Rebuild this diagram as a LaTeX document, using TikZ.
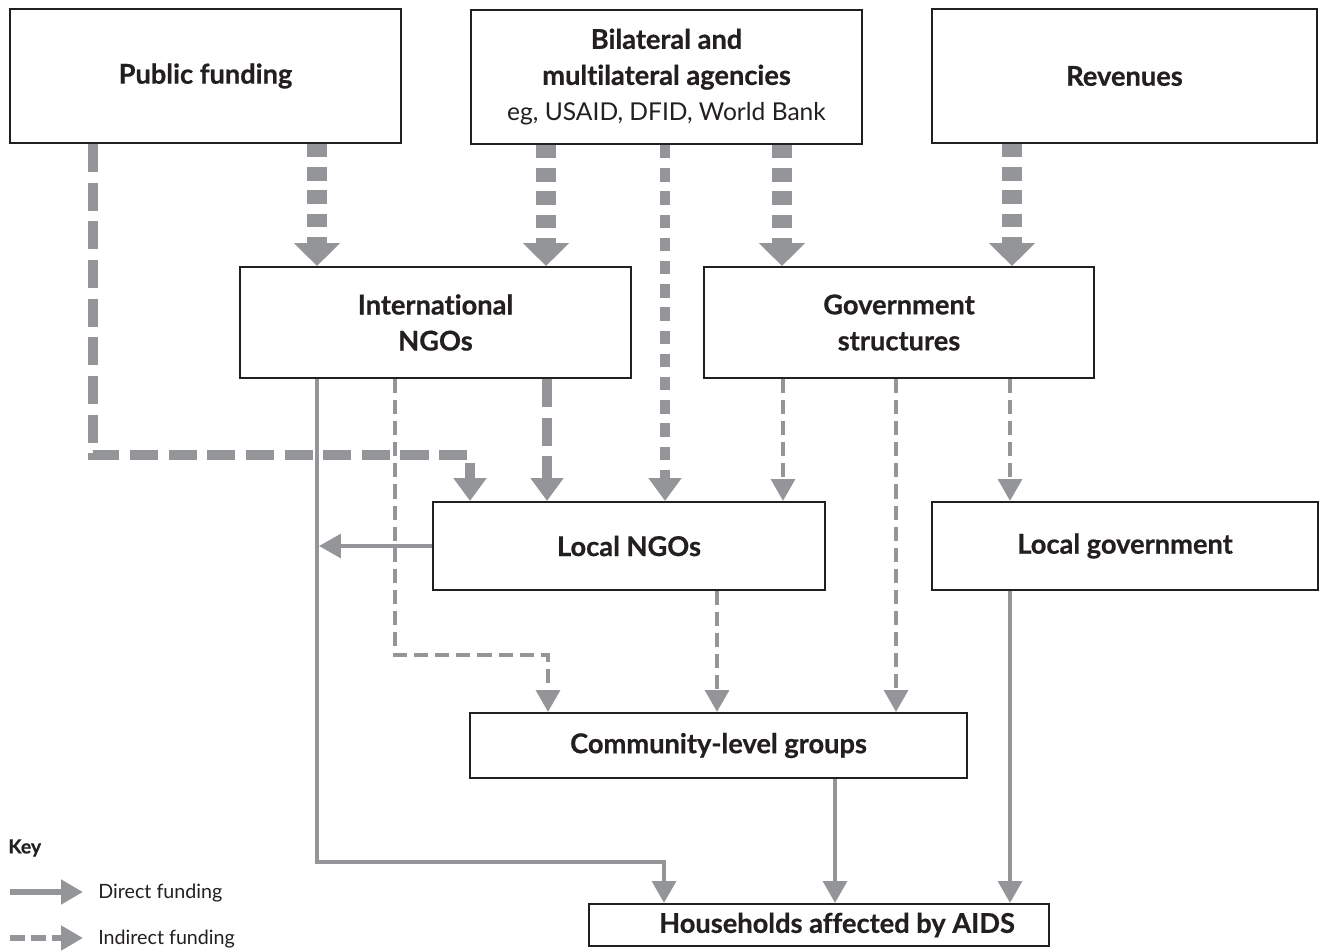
\documentclass[tikz,border=0pt]{standalone}
\usepackage{fontspec}
\setmainfont{Lato}[Ligatures=NoCommon,BoldFeatures={FakeBold=0.6}]
\usetikzlibrary{arrows.meta}
\definecolor{fgray}{HTML}{939598}
\definecolor{ink}{HTML}{231F20}
\begin{document}
\begin{tikzpicture}[x=0.02cm,y=-0.02cm,
  box/.style={draw=ink,line width=1.2pt,fill=white,inner sep=0pt,align=center,text=ink,
    font=\bfseries\fontsize{15.5}{20.5}\selectfont},
  flow/.style={draw=fgray,line cap=butt},
  thickarr/.style={flow,line width=11.9pt,dash pattern=on 7.6pt off 5.6pt,
    -{Triangle[width=25.5pt,length=13pt]}},
  longarr/.style={flow,line width=5.8pt,dash pattern=on 16pt off 6pt,
    -{Triangle[width=18pt,length=13pt]}},
  shortarr/.style={flow,line width=6pt,dash pattern=on 7.6pt off 5.6pt,
    -{Triangle[width=18pt,length=13pt]}},
  thinarr/.style={flow,line width=2.4pt,dash pattern=on 8pt off 4pt,
    -{Triangle[width=13.5pt,length=12.5pt]}},
  solidarr/.style={flow,line width=2.4pt,
    -{Triangle[width=13.5pt,length=12.5pt]}},
  keytxt/.style={anchor=west,text=ink,inner sep=0pt,font=\fontsize{11.2}{13}\selectfont}
]
\useasboundingbox (0,0) rectangle (1324,951);

% boxes
\node[box,minimum width=7.82cm,minimum height=2.68cm] (pub) at (205.5,76) {Public funding};
\node[box,minimum width=7.82cm,minimum height=2.68cm] (bil) at (666.5,77)
  {Bilateral and\\multilateral agencies\\{\mdseries\fontsize{14}{20.5}\selectfont eg, USAID, DFID, World Bank}};
\node[box,minimum width=7.7cm,minimum height=2.68cm] (rev) at (1124.5,76) {Revenues};
\node[box,minimum width=7.82cm,minimum height=2.22cm] (intl) at (435.5,322.5) {International\\NGOs};
\node[box,minimum width=7.8cm,minimum height=2.22cm] (gov) at (899,322.5) {Government\\structures};
\node[box,minimum width=7.84cm,minimum height=1.76cm] (lngo) at (629,546) {Local NGOs};
\node[box,minimum width=7.72cm,minimum height=1.76cm] (lgov) at (1125,546) {Local government};
\node[box,minimum width=9.94cm,minimum height=1.3cm] (comm) at (718.5,745.5) {Community-level groups};
\node[box,minimum width=9.2cm,minimum height=0.84cm] (hh) at (819,925) {\hspace*{0.72cm}Households affected by AIDS};

% connectors
\draw[longarr] (pub.south -| 93,0) -- (93,455) -- (470,455) -- (lngo.north -| 470,0);
\draw[thickarr] (pub.south -| 317,0) -- (intl.north -| 317,0);
\draw[thickarr] (bil.south -| 546,0) -- (intl.north -| 546,0);
\draw[shortarr] (bil.south -| 665,0) -- (lngo.north -| 665,0);
\draw[thickarr] (bil.south -| 782,0) -- (gov.north -| 782,0);
\draw[thickarr] (rev.south -| 1012,0) -- (gov.north -| 1012,0);
\draw[longarr] (intl.south -| 547,0) -- (lngo.north -| 547,0);
\draw[solidarr] (intl.south -| 317,0) -- (317,862) -- (664,862) -- (hh.north -| 664,0);
\draw[thinarr] (intl.south -| 395,0) -- (395,655) -- (548,655) -- (comm.north -| 548,0);
\draw[solidarr] (lngo.west) -- (lngo.west -| 319,0);
\draw[thinarr] (gov.south -| 783,0) -- (lngo.north -| 783,0);
\draw[thinarr] (gov.south -| 896,0) -- (comm.north -| 896,0);
\draw[thinarr] (gov.south -| 1010,0) -- (lgov.north -| 1010,0);
\draw[thinarr] (lngo.south -| 717,0) -- (comm.north -| 717,0);
\draw[solidarr] (comm.south -| 835,0) -- (hh.north -| 835,0);
\draw[solidarr] (lgov.south -| 1010,0) -- (hh.north -| 1010,0);

% key
\node[anchor=west,inner sep=0pt,text=ink,font=\bfseries\fontsize{11}{12}\selectfont] (key) at (8,848) {Key};
\coordinate (k1a) at (10,892);
\coordinate (k1b) at (83,892);
\coordinate (k2a) at (10,938);
\coordinate (k2b) at (83,938);
\draw[flow,line width=3.4pt,-{Triangle[width=13.5pt,length=12.5pt]}] (k1a) -- (k1b);
\draw[flow,line width=3.4pt,dash pattern=on 8.5pt off 3.5pt,-{Triangle[width=13.5pt,length=12.5pt]}] (k2a) -- (k2b);
\node[keytxt] (kd) at (98,893) {Direct funding};
\node[keytxt] (ki) at (98,939) {Indirect funding};
\end{tikzpicture}
\end{document}
